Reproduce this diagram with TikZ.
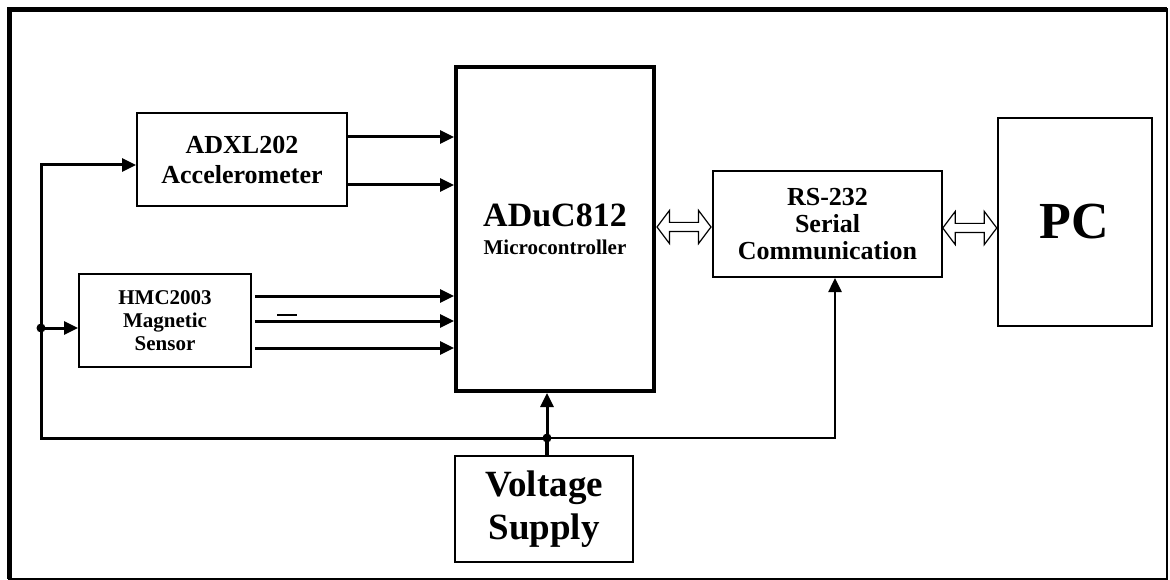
\documentclass[tikz,border=0pt]{standalone}
\usepackage{fontspec}
\setmainfont{Liberation Serif}
\usetikzlibrary{arrows.meta,calc,shapes.arrows}

\tikzstyle{every node}=[font=\bfseries]
\tikzstyle{box}=[draw, line width=2pt, inner sep=0pt, align=center]
\tikzstyle{wire}=[line width=3pt, -{Triangle[length=14pt,width=13pt]}]
\tikzstyle{link}=[draw, double arrow, line width=1.2pt, minimum height=54pt, inner xsep=0pt, inner ysep=4pt, double arrow head extend=12pt, double arrow tip angle=106]

\begin{document}
\begin{tikzpicture}[x=1pt,y=-1pt]
            \useasboundingbox (0,0) rectangle (1170,580);

            % 外框
            \draw[line width=2pt] (9,9.5) rectangle (1167,578.5);
            \draw[line width=5pt] (9,578.5) -- (9,9.5) -- (1167,9.5);

            % 方框
            \node[box, minimum width=210pt, minimum height=93pt, font=\fontsize{26}{30}\selectfont\bfseries] (adxl) at (242,159.5) {ADXL202\\Accelerometer};
            \node[box, minimum width=172pt, minimum height=93pt, font=\fontsize{21}{23}\selectfont\bfseries] (hmc) at (165,320.5) {HMC2003\\Magnetic\\Sensor};
            \node[box, line width=4pt, minimum width=198pt, minimum height=324pt, font=\fontsize{21}{28}\selectfont\bfseries] (mcu) at (555,229) {{\fontsize{34}{34}\selectfont ADuC812}\\Microcontroller};
            \node[box, minimum width=229pt, minimum height=106pt, font=\fontsize{26}{27}\selectfont\bfseries] (rs) at (827.5,224) {RS-232\\Serial\\Communication};
            \node[box, minimum width=154pt, minimum height=208pt, font=\fontsize{52}{52}\selectfont\bfseries] (pc) at (1074.5,222) {PC};
            \node[box, minimum width=178pt, minimum height=106pt, font=\fontsize{37}{43}\selectfont\bfseries] (vs) at (544,509) {Voltage\\Supply};

            % 电源总线
            \coordinate (busL) at (41,438);
            \coordinate (jh) at (41,328);
            \coordinate (jv) at ($(vs.north |- busL)+(3,0)$);
            \draw[wire] (jv) -- (busL) |- ($(adxl.west)+(0,5.5)$);
            \draw[wire] (jh) -- ($(hmc.west)+(0,7.5)$);
            \draw[wire, line width=2.5pt] (jv) -| ($(rs.south)+(7.5,0)$);
            \draw[line width=4.5pt] (jv) -- (jv |- vs.north);
            \draw[wire] (jv) -- (jv |- mcu.south);
            \fill (jh) circle (4.5pt);
            \fill (jv) circle (4.5pt);

            % 传感器输出
            \foreach \dy in {-22.5,25.5} {
                \coordinate (a) at ($(adxl.east)+(0,\dy)$);
                \draw[wire] (a) -- (a -| mcu.west);
            }
            \foreach \dy in {-24.5,0.5,27.5} {
                \coordinate (b) at ($(hmc.east)+(3,\dy)$);
                \draw[wire] (b) -- (b -| mcu.west);
            }
            \draw[line width=1.5pt] ($(hmc.east)+(25,-5.5)$) -- ++(20,0);

            % 串口连接
            \node[link] (lk1) at ($(mcu.east)!0.5!(rs.west)+(0,0.5)$) {};
            \node[link] (lk2) at ($(rs.east)!0.5!(pc.west)+(0,5)$) {};
        \end{tikzpicture}
\end{document}
